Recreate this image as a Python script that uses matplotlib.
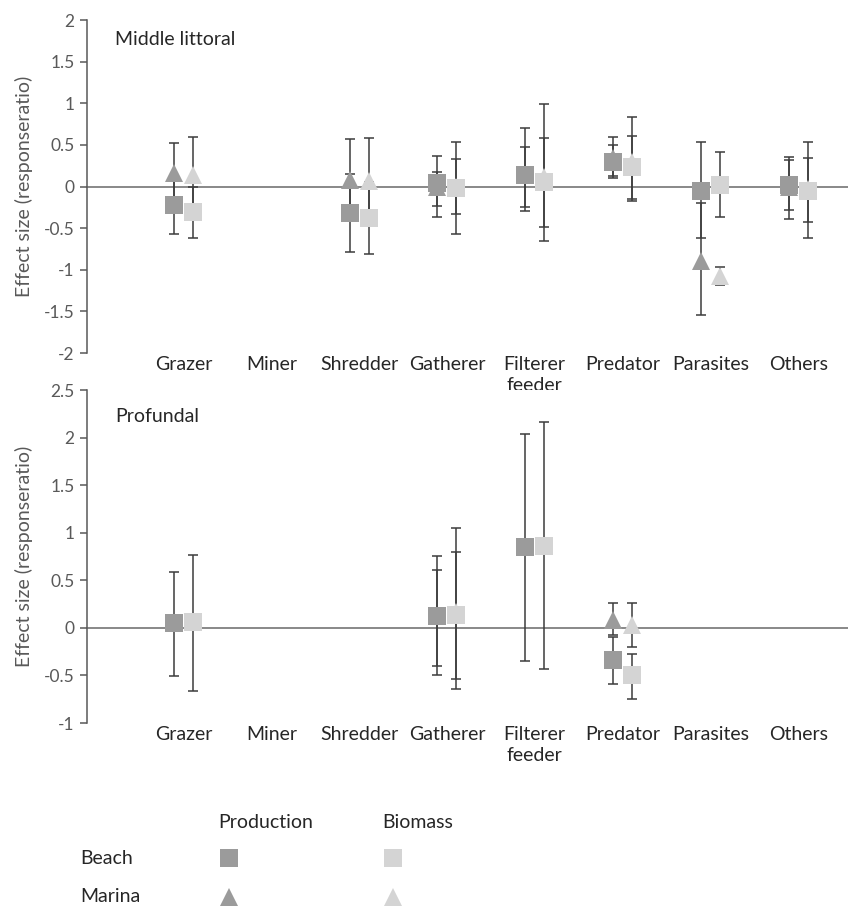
import numpy as np
import matplotlib
matplotlib.use("Agg")
import matplotlib.pyplot as plt
from matplotlib.lines import Line2D

nan = np.nan

categories = ["Grazer", "Miner", "Shredder", "Gatherer", "Filterer\nfeeder",
              "Predator", "Parasites", "Others"]

# Middle littoral
ml_beach_prod = [-0.22, nan, -0.32, 0.04, 0.14, 0.29, -0.05, 0.02]
ml_beach_prod_lo = [-0.57, nan, -0.79, -0.37, -0.29, 0.10, -0.62, -0.39]
ml_beach_prod_hi = [0.13, nan, 0.15, 0.37, 0.70, 0.59, 0.53, 0.35]
ml_marina_prod = [0.16, nan, 0.08, 0.00, 0.14, 0.34, -0.90, 0.00]
ml_marina_prod_lo = [-0.19, nan, -0.41, -0.23, -0.24, 0.13, -1.54, -0.28]
ml_marina_prod_hi = [0.52, nan, 0.57, 0.18, 0.47, 0.50, -0.20, 0.32]
ml_beach_bio = [-0.31, nan, -0.38, -0.02, 0.06, 0.23, 0.02, -0.05]
ml_beach_bio_lo = [-0.62, nan, -0.81, -0.57, -0.65, -0.17, -0.37, -0.62]
ml_beach_bio_hi = [0.00, nan, 0.05, 0.53, 0.99, 0.83, 0.41, 0.53]
ml_marina_bio = [0.14, nan, 0.07, 0.00, 0.12, 0.30, -1.08, -0.03]
ml_marina_bio_lo = [-0.31, nan, -0.45, -0.33, -0.49, -0.15, -1.18, -0.43]
ml_marina_bio_hi = [0.59, nan, 0.58, 0.33, 0.58, 0.61, -0.97, 0.34]

# Profundal
pf_beach_prod = [0.05, nan, nan, 0.12, 0.85, -0.34, nan, nan]
pf_beach_prod_lo = [-0.51, nan, nan, -0.50, -0.35, -0.59, nan, nan]
pf_beach_prod_hi = [0.59, nan, nan, 0.76, 2.04, -0.10, nan, nan]
pf_marina_prod = [nan, nan, nan, 0.12, nan, 0.08, nan, nan]
pf_marina_prod_lo = [nan, nan, nan, -0.40, nan, -0.07, nan, nan]
pf_marina_prod_hi = [nan, nan, nan, 0.61, nan, 0.26, nan, nan]
pf_beach_bio = [0.06, nan, nan, 0.14, 0.86, -0.49, nan, nan]
pf_beach_bio_lo = [-0.66, nan, nan, -0.64, -0.43, -0.75, nan, nan]
pf_beach_bio_hi = [0.77, nan, nan, 1.05, 2.16, -0.27, nan, nan]
pf_marina_bio = [nan, nan, nan, 0.17, nan, 0.03, nan, nan]
pf_marina_bio_lo = [nan, nan, nan, -0.54, nan, -0.20, nan, nan]
pf_marina_bio_hi = [nan, nan, nan, 0.80, nan, 0.26, nan, nan]

PROD_COLOR = "#9b9b9b"
BIO_COLOR = "#d4d4d4"
ERR_COLOR = "#3c3c3c"
TEXT_COLOR = "#595959"
LABEL_COLOR = "#262626"
OFFSET = 0.108

plt.rcParams["font.family"] = ["Lato", "DejaVu Sans"]


def draw_series(ax, xs, vals, lo, hi, marker, color):
    x = np.asarray(xs, float)
    v = np.asarray(vals, float)
    lo = np.asarray(lo, float)
    hi = np.asarray(hi, float)
    m = ~np.isnan(v)
    ax.errorbar(x[m], v[m], yerr=[v[m] - lo[m], hi[m] - v[m]], fmt="none",
                ecolor=ERR_COLOR, elinewidth=1.1, capsize=3.5, capthick=1.1,
                zorder=3)
    ax.plot(x[m], v[m], linestyle="none", marker=marker, markersize=13.5,
            color=color, markeredgewidth=0, zorder=4)


def setup_panel(ax, ylim, yticks, title, title_y):
    ax.set_xlim(-1.099, 7.568)
    ax.set_ylim(*ylim)
    ax.set_yticks(yticks)
    ax.set_yticklabels([f"{t:g}" for t in yticks], fontsize=12.5, color=TEXT_COLOR)
    ax.set_xticks(np.arange(len(categories)))
    ax.set_xticklabels(categories, fontsize=14, color=LABEL_COLOR, linespacing=1.3,
                       va="top")
    ax.tick_params(axis="x", length=0, pad=2)
    ax.tick_params(axis="y", length=5, width=1.1, color=TEXT_COLOR, direction="out",
                   pad=4)
    for s in ["top", "right", "bottom"]:
        ax.spines[s].set_visible(False)
    ax.spines["left"].set_color(TEXT_COLOR)
    ax.spines["left"].set_linewidth(1.1)
    ax.axhline(0, color="#7f7f7f", linewidth=1.3, zorder=1, clip_on=False)
    ax.set_ylabel("Effect size (responseratio)", fontsize=14, color=TEXT_COLOR,
                  labelpad=8)
    ax.text(0.037, title_y, title, transform=ax.transAxes, fontsize=14,
            color=LABEL_COLOR, va="top", ha="left")


fig = plt.figure(figsize=(8.48, 9.08), dpi=100)
ax1 = fig.add_axes([0.1026, 0.6112, 0.8974, 0.3667])
ax2 = fig.add_axes([0.1026, 0.2037, 0.8974, 0.3667])

idx = np.arange(len(categories))
xp = idx - OFFSET
xb = idx + OFFSET

setup_panel(ax1, (-2, 2), np.arange(-2, 2.01, 0.5), "Middle littoral", 0.966)
draw_series(ax1, xp, ml_beach_prod, ml_beach_prod_lo, ml_beach_prod_hi, "s", PROD_COLOR)
draw_series(ax1, xp, ml_marina_prod, ml_marina_prod_lo, ml_marina_prod_hi, "^", PROD_COLOR)
draw_series(ax1, xb, ml_beach_bio, ml_beach_bio_lo, ml_beach_bio_hi, "s", BIO_COLOR)
draw_series(ax1, xb, ml_marina_bio, ml_marina_bio_lo, ml_marina_bio_hi, "^", BIO_COLOR)

setup_panel(ax2, (-1, 2.5), np.arange(-1, 2.51, 0.5), "Profundal", 0.945)
draw_series(ax2, xp, pf_beach_prod, pf_beach_prod_lo, pf_beach_prod_hi, "s", PROD_COLOR)
draw_series(ax2, xp, pf_marina_prod, pf_marina_prod_lo, pf_marina_prod_hi, "^", PROD_COLOR)
draw_series(ax2, xb, pf_beach_bio, pf_beach_bio_lo, pf_beach_bio_hi, "s", BIO_COLOR)
draw_series(ax2, xb, pf_marina_bio, pf_marina_bio_lo, pf_marina_bio_hi, "^", BIO_COLOR)

# legend table at the bottom
W, H = 848, 908
col_x = {"Production": 229, "Biomass": 393}
row_y = {"Beach": 858, "Marina": 897}
fig.text(218 / W, 1 - 823 / H, "Production", fontsize=14, color=LABEL_COLOR,
         va="center", ha="left")
fig.text(382 / W, 1 - 823 / H, "Biomass", fontsize=14, color=LABEL_COLOR,
         va="center", ha="left")
for name, y in row_y.items():
    fig.text(80 / W, 1 - y / H, name, fontsize=14, color=LABEL_COLOR,
             va="center", ha="left")
for col, color in [("Production", PROD_COLOR), ("Biomass", BIO_COLOR)]:
    for row, marker in [("Beach", "s"), ("Marina", "^")]:
        fig.add_artist(Line2D([col_x[col] / W], [1 - row_y[row] / H],
                              transform=fig.transFigure, marker=marker,
                              markersize=13.5, color=color, markeredgewidth=0,
                              linestyle="none"))

fig.savefig("out.png", dpi=100)
